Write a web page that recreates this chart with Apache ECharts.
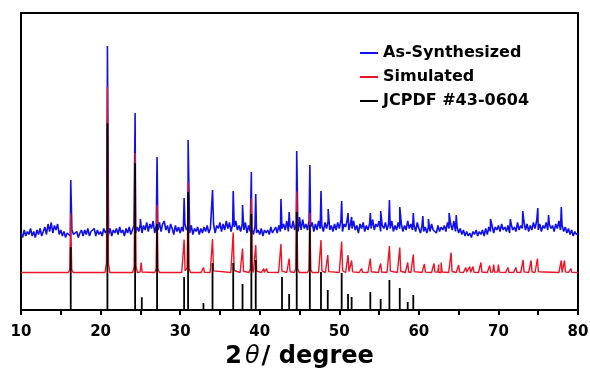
<!DOCTYPE html>
<html>
<head>
<meta charset="utf-8">
<script src="https://cdn.jsdelivr.net/npm/echarts@6/dist/echarts.min.js"></script>
<style>
html,body{margin:0;padding:0;background:#fff;}
#chart{width:590px;height:372px;}
</style>
</head>
<body>
<div id="chart"></div>
<script>
// ---------- DATA ----------
const xTicks = [10, 20, 30, 40, 50, 60, 70, 80];
const seriesNames = ['As-Synthesized', 'Simulated', 'JCPDF #43-0604'];

// vertical offsets of the stacked patterns (intensity units)
const blueOffset = 71;
const blueNoiseUnit = 1.5;
const redOffset = 37.5;

// JCPDF #43-0604 reference sticks: 2theta and relative intensity
const stickPos = [16.25, 20.86, 24.34, 25.18, 27.1, 30.5, 31.0, 32.93, 34.07, 36.67, 37.84, 38.95, 39.5, 42.8, 43.7, 44.65, 46.3, 47.7, 48.55, 50.3, 51.1, 51.55, 53.9, 55.2, 56.3, 57.6, 58.6, 59.3];
const stickInt = [63, 186.7, 146.7, 12.7, 86, 33, 118, 7, 47, 47, 26, 96, 50, 33, 16, 98, 85, 38, 20, 37, 16, 13, 18, 11, 30, 22, 8, 15];

// Simulated pattern: peak positions and heights
const simPos = [16.25, 20.86, 24.34, 25.1, 27.1, 30.5, 31.0, 32.93, 34.07, 36.67, 37.84, 38.95, 39.5, 40.5, 40.86, 42.67, 43.7, 44.65, 46.3, 47.7, 48.55, 50.3, 51.1, 51.55, 52.8, 53.9, 55.2, 56.3, 57.6, 58.6, 59.3, 60.7, 61.9, 62.5, 62.8, 64.05, 65.0, 65.9, 66.4, 66.8, 67.8, 68.9, 69.4, 70.0, 71.2, 72.2, 73.1, 74.1, 74.9, 77.9, 78.3, 79.1];
const simInt = [59, 185.6, 119.6, 10, 67.5, 33, 90, 5, 33.5, 40, 24, 74, 27.5, 4, 4, 28.5, 14, 81, 59.5, 32.5, 17.5, 31, 17.5, 12, 4, 14, 9, 26.5, 25, 10, 18, 8.5, 9, 8, 10, 20, 7.5, 5, 6, 6, 10, 7, 8, 8, 5, 5, 12.5, 12, 14, 12, 12, 4];

// As-synthesized: background read every 0.2 deg from 10 to 80
const bgStart = 10, bgStep = 0.2;
const bgNoise = [
 4,1,6,2,5, 3,7,2,5,1, 6,3,7,2,5, 8,3,10,5,11, 4,9,6,10,3, 6,2,5,1,4, 5,2,6,3,2, 5,1,4,6,2, 6,3,7,2,5, 4,7,2,6,3,
 5,2,7,4,6, 3,7,2,6,4, 7,3,8,4,6, 2,7,4,8,3, 6,9,4,8,5, 10,4,9,6,11, 5,10,7,12,4, 9,6,11,5,10, 12,6,9,4,10, 7,3,9,5,8,
 4,8,5,10,6, 8,4,9,3,7, 5,8,3,7,4, 8,5,9,4,7, 6,10,4,9,7, 11,5,10,6,12, 7,11,5,10,8, 12,6,9,5,10, 6,11,4,9,5, 7,3,8,4,6,
 3,7,2,6,4, 6,3,8,4,5, 8,4,9,5,7, 10,6,12,5,9, 7,12,6,10,5, 11,6,13,7,10, 6,12,8,11,5, 10,6,12,7,9, 5,11,7,12,6, 9,5,10,6,11,
 7,12,5,10,8, 13,6,10,7,12, 6,9,4,10,7, 11,5,9,6,10, 7,13,6,10,8, 12,5,9,7,11, 6,10,7,12,5, 9,6,11,7,10, 5,9,6,12,7, 10,6,9,5,11,
 7,4,9,5,8, 4,8,5,10,6, 7,4,9,5,8, 6,9,5,11,7, 10,6,12,5,8, 4,7,3,6,2, 5,2,4,1,5, 3,6,2,5,3, 6,2,7,3,8, 5,9,4,8,6,
 9,5,10,6,8, 5,9,4,10,6, 8,5,11,6,9, 7,12,6,10,5, 9,6,11,7,12, 6,10,5,9,7, 11,6,10,7,9, 5,10,7,12,6, 9,5,8,4,7, 3,6,2,5,3,
 4
];
// As-synthesized peaks: position and height above background
const synPos = [16.25, 20.86, 24.34, 25.0, 27.1, 30.5, 31.0, 34.07, 36.67, 37.84, 38.95, 39.5, 42.67, 43.7, 44.65, 45.0, 46.3, 47.7, 48.6, 50.3, 51.1, 51.55, 53.9, 55.2, 56.3, 57.6, 59.3, 60.5, 61.2, 63.8, 64.7, 69.0, 71.5, 73.06, 74.95, 76.3, 77.9];
const synInt = [53, 187, 120, 14, 76, 35, 93, 43, 42, 28, 61, 39, 34, 21, 82, 16, 68, 42, 24, 32, 20, 16, 20, 22, 33, 26, 20, 17, 14, 20, 18, 14, 14, 22, 25, 18, 26];

// ---------- BUILD SERIES ----------
function buildBlue() {
  const pts = [];
  for (let i = 0; i < bgNoise.length; i++) {
    pts.push([+(bgStart + i * bgStep).toFixed(2), blueOffset + bgNoise[i] * blueNoiseUnit]);
  }
  for (let i = 0; i < synPos.length; i++) {
    pts.push([synPos[i] + 0.001, blueOffset + 6 + synInt[i]]);
  }
  pts.sort((a, b) => a[0] - b[0]);
  return pts;
}
function buildRed() {
  const pts = [[10, redOffset], [80, redOffset]];
  for (let i = 0; i < simPos.length; i++) {
    const p = simPos[i], h = simInt[i];
    pts.push([p - 0.3, redOffset]);
    pts.push([p - 0.12, redOffset + h * 0.05]);
    pts.push([p, redOffset + h]);
    pts.push([p + 0.12, redOffset + h * 0.05]);
    pts.push([p + 0.3, redOffset]);
  }
  pts.sort((a, b) => a[0] - b[0]);
  return pts;
}
function buildSticks() {
  const pts = [];
  for (let i = 0; i < stickPos.length; i++) {
    pts.push([stickPos[i], 0], [stickPos[i], stickInt[i]], [stickPos[i], 0]);
  }
  return pts;
}

const FONT = '"DejaVu Sans", Verdana, sans-serif';
const chart = echarts.init(document.getElementById('chart'), null, {renderer: 'canvas'});
chart.setOption({
  animation: false,
  backgroundColor: '#fff',
  grid: {left: 21, right: 12, top: 13, bottom: 62, containLabel: false, outerBoundsMode: 'none',
         show: true, borderColor: '#000', borderWidth: 2, backgroundColor: 'transparent'},
  legend: {
    orient: 'vertical', left: 360, top: 45, itemWidth: 18, itemHeight: 2, itemGap: 8, padding: 0,
    textStyle: {fontFamily: FONT, fontWeight: 'bold', fontSize: 16, color: '#000'},
    data: seriesNames.map(n => ({name: n, icon: 'rect'}))
  },
  xAxis: {
    type: 'value', min: xTicks[0], max: xTicks[xTicks.length - 1], interval: 10,
    axisLine: {show: true, lineStyle: {color: '#000', width: 2}},
    axisTick: {show: true, inside: false, length: 5, lineStyle: {color: '#000', width: 2}},
    minorTick: {show: true, splitNumber: 2, length: 5, lineStyle: {color: '#000', width: 2}},
    splitLine: {show: false},
    axisLabel: {margin: 15, fontFamily: FONT, fontWeight: 'bold', fontSize: 15, color: '#000'},
    name: '{a|2}{b|θ}{a|/ degree}', nameLocation: 'middle', nameGap: 35,
    nameTextStyle: {
      rich: {
        a: {fontFamily: FONT, fontWeight: 'bold', fontSize: 24, color: '#000'},
        b: {fontFamily: FONT, fontStyle: 'italic', fontWeight: 'normal', fontSize: 24, color: '#000', padding: [0, 2, 0, 3]}
      }
    }
  },
  yAxis: {
    type: 'value', min: 0, max: 297, show: false, splitLine: {show: false}
  },
  series: [
    {name: seriesNames[0], type: 'line', data: buildBlue(), showSymbol: false, symbol: 'none',
     lineStyle: {color: '#1010ee', width: 1.6}, itemStyle: {color: '#1010ee'}, z: 2},
    {name: seriesNames[1], type: 'line', data: buildRed(), showSymbol: false, symbol: 'none',
     lineStyle: {color: '#ec1426', width: 1.4}, itemStyle: {color: '#ec1426'}, z: 3},
    {name: seriesNames[2], type: 'line', data: buildSticks(), showSymbol: false, symbol: 'none',
     lineStyle: {color: '#000', width: 1.8}, itemStyle: {color: '#000'}, z: 4}
  ]
});
</script>
</body>
</html>
